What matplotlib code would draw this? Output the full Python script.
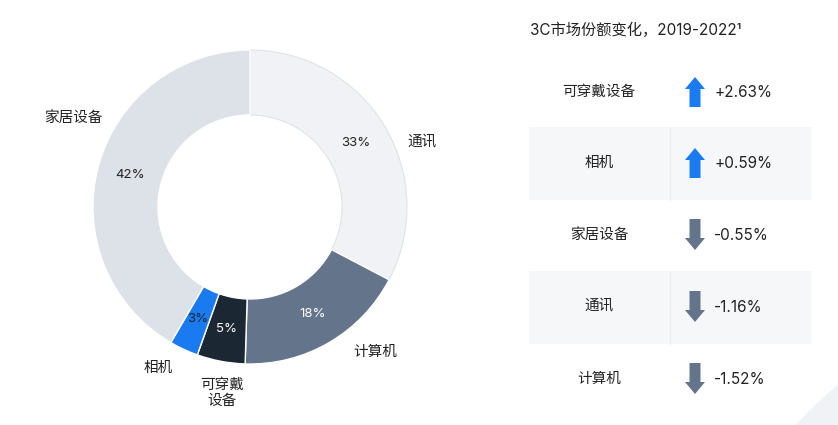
import matplotlib
matplotlib.use("Agg")
import matplotlib.pyplot as plt
from matplotlib.patches import Rectangle, Polygon, Circle

plt.rcParams['font.family'] = ['Inter', 'Noto Sans CJK SC', 'DejaVu Sans']

# ---- data ----
categories = ['通讯', '计算机', '可穿戴\n设备', '相机', '家居设备']
shares = [33, 18, 5, 3, 42]
share_labels = ['33%', '18%', '5%', '3%', '42%']

table_title = '3C市场份额变化，2019-2022¹'
change_cats = ['可穿戴设备', '相机', '家居设备', '通讯', '计算机']
change_vals = [2.63, 0.59, -0.55, -1.16, -1.52]
change_labels = ['+2.63%', '+0.59%', '-0.55%', '-1.16%', '-1.52%']

# ---- style ----
colors = ['#f0f2f5', '#64748b', '#1b2733', '#1a7bf0', '#dde1e8']
pct_colors = ['#222222', 'white', 'white', '#1b2733', '#222222']
cjk = ['Noto Sans CJK SC', 'DejaVu Sans']
W, H = 838, 425
fig = plt.figure(figsize=(W / 100, H / 100), dpi=100)
fig.patch.set_facecolor('white')

bg = fig.add_axes([0, 0, 1, 1])
bg.set_xlim(0, W)
bg.set_ylim(H, 0)
bg.axis('off')

# decorative background curve bottom right
bg.add_patch(Circle((1100, 700), 410, facecolor='#f0f2f5', edgecolor='none', zorder=0))

# ---- donut ----
cx, cy, R = 250, 207, 157
pax = fig.add_axes([(cx - R) / W, (H - cy - R) / H, 2 * R / W, 2 * R / H])
it = iter(share_labels)
wedges, texts, autotexts = pax.pie(
    shares, colors=colors, startangle=90, counterclock=False, radius=1,
    wedgeprops=dict(width=65 / R, edgecolor='white', linewidth=1),
    autopct=lambda p: next(it), pctdistance=0.79,
    textprops=dict(fontsize=9.5, family=['Inter', 'DejaVu Sans']))
for t, c in zip(autotexts, pct_colors):
    t.set_color(c)
wedges[0].set_edgecolor('#dfe3e9')
wedges[0].set_linewidth(0.8)
pax.set_xlim(-1, 1)
pax.set_ylim(-1, 1)

label_pos = [(422, 143), (375, 352), (222, 393), (158, 368), (73, 118)]
for name, (x, y) in zip(categories, label_pos):
    bg.text(x, y, name, ha='center', va='center', fontsize=10.5, color='#222222',
            family=cjk, fontweight='medium', linespacing=1.15, zorder=5)

# ---- table ----
bg.text(530, 30, table_title, ha='left', va='center', fontsize=11, color='#222222')
row_y = [92, 163, 235, 307, 379]
for i, (cat, val, lab) in enumerate(zip(change_cats, change_vals, change_labels)):
    y = row_y[i]
    if i % 2 == 1:
        bg.add_patch(Rectangle((529, y - 36), 283, 73, facecolor='#f6f7f9', edgecolor='none', zorder=1))
        bg.plot([670, 670], [y - 36, y + 37], color='#eceef1', lw=0.8, zorder=2)
    bg.text(599, y, cat, ha='center', va='center', fontsize=10.5, color='#222222',
            family=cjk, fontweight='medium', zorder=3)
    ax_x = 695
    if val >= 0:
        col = '#1a7bf0'
        pts = [(ax_x - 5.5, y + 15), (ax_x + 5.5, y + 15), (ax_x + 5.5, y - 3), (ax_x + 10, y - 3),
               (ax_x, y - 15), (ax_x - 10, y - 3), (ax_x - 5.5, y - 3)]
    else:
        col = '#64748b'
        pts = [(ax_x - 5.5, y - 16), (ax_x + 5.5, y - 16), (ax_x + 5.5, y + 3), (ax_x + 10, y + 3),
               (ax_x, y + 15), (ax_x - 10, y + 3), (ax_x - 5.5, y + 3)]
    bg.add_patch(Polygon(pts, closed=True, facecolor=col, edgecolor='none', zorder=3))
    bg.text(714, y, lab, ha='left', va='center', fontsize=11, color='#222222', zorder=3)

fig.savefig('out.png', dpi=100, facecolor='white')
